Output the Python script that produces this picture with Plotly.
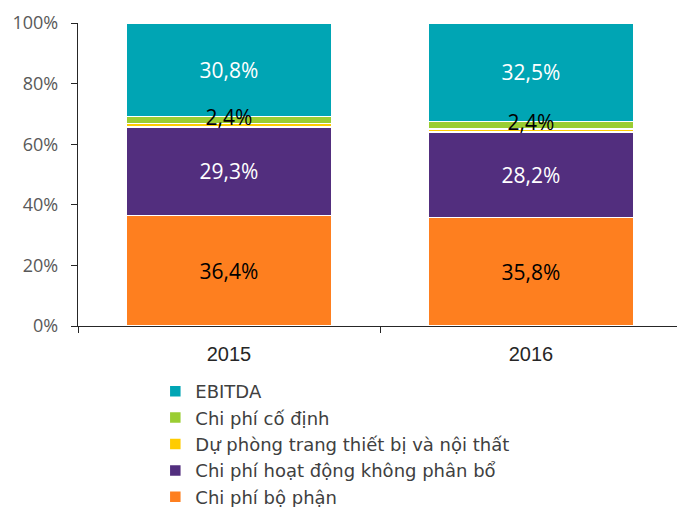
import plotly.graph_objects as go

years = ["2015", "2016"]

# stacked shares (%), bottom to top
bo_phan = [36.4, 35.8]
hoat_dong = [29.3, 28.2]
du_phong = [1.1, 1.1]
co_dinh = [2.4, 2.4]
ebitda = [30.8, 32.5]

names = ["Chi phí bộ phận", "Chi phí hoạt động không phân bổ",
         "Dự phòng trang thiết bị và nội thất", "Chi phí cố định", "EBITDA"]
series = [bo_phan, hoat_dong, du_phong, co_dinh, ebitda]
colors = ["#FE7F1F", "#522E7E", "#FFCC00", "#9ACD32", "#00A5B4"]
label_colors = ["black", "white", None, None, "white"]


def fmt(v):
    return f"{v:.1f}%".replace(".", ",")


fig = go.Figure()
for name, vals, col, tcol in zip(names, series, colors, label_colors):
    fig.add_trace(go.Bar(
        x=years, y=vals, name=name,
        marker=dict(color=col, line=dict(color="white", width=1.5)),
        text=[fmt(v) for v in vals] if tcol else None,
        textposition="inside" if tcol else "none",
        insidetextanchor="middle",
        constraintext="none",
        textfont=dict(family="Open Sans", size=21, color=tcol or "black"),
        hoverinfo="skip",
    ))

# labels of the thin "Chi phí cố định" segment sit on top of everything
co_dinh_mid = [a + b + c + d / 2 for a, b, c, d in zip(bo_phan, hoat_dong, du_phong, co_dinh)]
fig.add_trace(go.Scatter(
    x=years, y=co_dinh_mid, mode="text",
    text=[fmt(v) for v in co_dinh],
    textfont=dict(family="Open Sans", size=21, color="black"),
    showlegend=False, hoverinfo="skip",
))

# the page body adds an 8px offset, margins are set with that in mind
fig.update_layout(
    barmode="stack",
    bargap=0.32,
    width=685, height=507,
    margin=dict(l=70, r=11, t=15, b=189),
    plot_bgcolor="white", paper_bgcolor="white",
    showlegend=True,
    legend=dict(
        traceorder="reversed",
        x=0.128, xanchor="left",
        y=142 / 507, yanchor="top", yref="container",
        font=dict(family="DejaVu Sans", size=18, color="#404040"),
        itemwidth=30,
        tracegroupgap=0,
        bgcolor="rgba(0,0,0,0)",
    ),
)

fig.update_yaxes(
    range=[0, 100], dtick=20, ticksuffix="%",
    showgrid=False, showline=True, linecolor="#262626", linewidth=1.3,
    ticks="outside", ticklen=6, tickcolor="#262626",
    tickfont=dict(family="Open Sans", size=18, color="#595959"),
    ticklabelstandoff=9,
    zeroline=False, automargin=False,
)
fig.update_xaxes(
    showline=True, linecolor="#262626", linewidth=1.3,
    ticks="outside", ticklen=6, tickcolor="#262626", tickson="boundaries",
    tickfont=dict(family="Liberation Sans", size=20, color="#262626"),
    ticklabelstandoff=10, automargin=False,
)

fig.write_html("out.html")
